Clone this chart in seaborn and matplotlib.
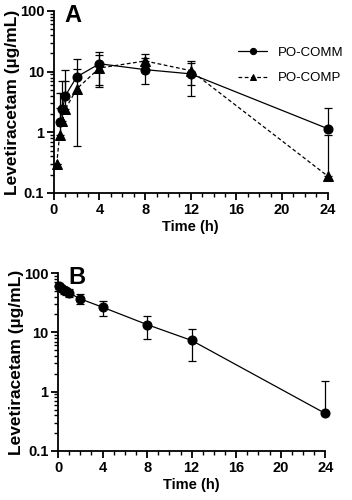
import numpy as np
import pandas as pd
import matplotlib
matplotlib.use("Agg")
import matplotlib.pyplot as plt
import seaborn as sns
from matplotlib.ticker import FixedLocator, LogLocator, NullFormatter, FixedFormatter, MultipleLocator

# ---- Data: panel A ----
time_comm = [0.5, 0.75, 1, 2, 4, 8, 12, 24]
conc_comm = [1.47, 2.4, 4.0, 8.2, 13.5, 10.8, 9.2, 1.15]
upper_comm = [4.5, 7.0, 10.5, 16.0, 21.0, 17.0, 14.0, 2.5]
lower_comm = [1.47, 2.4, 4.0, 8.2, 5.5, 6.2, 6.0, 1.15]

time_comp = [0.25, 0.5, 0.75, 1, 2, 4, 8, 12, 24]
conc_comp = [0.30, 0.89, 1.55, 2.4, 5.2, 11.5, 15.0, 10.4, 0.19]
upper_comp = [0.30, 2.5, 4.5, 7.0, 11.0, 19.0, 19.5, 15.0, 0.9]
lower_comp = [0.30, 0.89, 1.55, 2.4, 0.6, 6.0, 15.0, 4.0, 0.19]

# ---- Data: panel B ----
time_iv = [0.083, 0.25, 0.5, 0.75, 1, 2, 4, 8, 12, 24]
conc_iv = [61, 56, 52, 49, 46, 36.6, 26.5, 13.5, 7.3, 0.43]
upper_iv = [68, 63, 59, 56, 53, 45, 33.8, 19.2, 11.5, 1.5]
lower_iv = [54, 49, 45, 42, 39, 30, 18.8, 7.8, 3.3, 0.43]

series_names = ["PO-COMM", "PO-COMP"]
x_ticks = [0, 4, 8, 12, 16, 20, 24]
y_ticks = [0.1, 1, 10, 100]
y_ticklabels = ["0.1", "1", "10", "100"]

sns.set_style("ticks")
plt.rcParams['font.family'] = ['Liberation Sans', 'DejaVu Sans']
plt.rcParams['text.color'] = 'black'
plt.rcParams['axes.labelcolor'] = 'black'
plt.rcParams['xtick.color'] = 'black'
plt.rcParams['ytick.color'] = 'black'

fig = plt.figure(figsize=(3.52, 5.0), dpi=100)

dfA = pd.concat([
    pd.DataFrame({"time": time_comm, "conc": conc_comm, "group": series_names[0]}),
    pd.DataFrame({"time": time_comp, "conc": conc_comp, "group": series_names[1]}),
])
dfB = pd.DataFrame({"time": time_iv, "conc": conc_iv, "group": "IV"})

ERR = dict(fmt="none", ecolor="black", elinewidth=0.9, capsize=3, capthick=0.9, clip_on=False)

def style_axis(ax, label):
    ax.set_yscale("log")
    ax.set_xlim(0, 24)
    ax.set_ylim(0.1, 100)
    ax.xaxis.set_major_locator(FixedLocator(x_ticks))
    ax.xaxis.set_minor_locator(MultipleLocator(1))
    ax.yaxis.set_major_locator(FixedLocator(y_ticks))
    ax.yaxis.set_major_formatter(FixedFormatter(y_ticklabels))
    ax.yaxis.set_minor_locator(LogLocator(base=10, subs=np.arange(2, 10)))
    ax.yaxis.set_minor_formatter(NullFormatter())
    for s in ["top", "right"]:
        ax.spines[s].set_visible(False)
    for s in ["left", "bottom"]:
        ax.spines[s].set_linewidth(1.3)
        ax.spines[s].set_color("black")
    ax.tick_params(axis="both", which="major", length=5, width=1.3, labelsize=10.5,
                   colors="black", labelcolor="black", pad=2)
    ax.tick_params(axis="both", which="minor", length=3, width=1.0, colors="black")
    for t in ax.get_xticklabels() + ax.get_yticklabels():
        t.set_fontweight("bold")
    ax.set_xlabel("Time (h)", fontsize=10.5, fontweight="bold", labelpad=2, color="black")
    ax.set_ylabel("Levetiracetam (\u00b5g/mL)", fontsize=12.5, fontweight="bold", labelpad=0,
                  color="black")
    ax.text(0.04, 1.04, label, transform=ax.transAxes, fontsize=17, fontweight="bold",
            ha="left", va="top", color="black")
    for line in ax.lines:
        line.set_clip_on(False)

# Panel A
axA = fig.add_axes([0.153, 0.614, 0.778, 0.364])
sns.lineplot(data=dfA, x="time", y="conc", hue="group", style="group",
             markers={"PO-COMM": "o", "PO-COMP": "^"},
             dashes={"PO-COMM": "", "PO-COMP": (3, 2)},
             palette={"PO-COMM": "black", "PO-COMP": "black"},
             markersize=6.5, linewidth=0.9, markeredgecolor="black", ax=axA)
c = np.array(conc_comm)
axA.errorbar(time_comm, c, yerr=[c - np.array(lower_comm), np.array(upper_comm) - c], **ERR)
c2 = np.array(conc_comp)
axA.errorbar(time_comp, c2, yerr=[c2 - np.array(lower_comp), np.array(upper_comp) - c2], **ERR)
style_axis(axA, "A")
leg = axA.legend(loc="upper right", bbox_to_anchor=(1.1, 0.87), frameon=False, fontsize=9.5,
                 handlelength=2.2, labelspacing=1.0, handletextpad=0.8, labelcolor="black")
for h in leg.legend_handles:
    h.set_markersize(4.5)
    h.set_linewidth(0.9)

# Panel B
axB = fig.add_axes([0.165, 0.098, 0.759, 0.356])
sns.lineplot(data=dfB, x="time", y="conc", color="black", marker="o",
             markersize=6.5, linewidth=0.9, markeredgecolor="black", ax=axB, legend=False)
c3 = np.array(conc_iv)
axB.errorbar(time_iv, c3, yerr=[c3 - np.array(lower_iv), np.array(upper_iv) - c3], **ERR)
style_axis(axB, "B")

fig.savefig("out.png", dpi=100)
